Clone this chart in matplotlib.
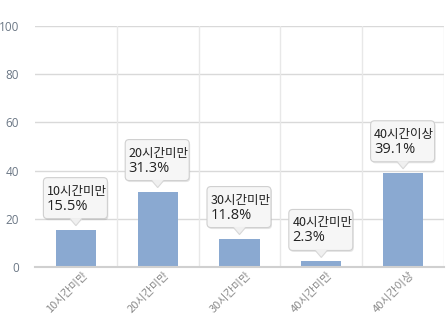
import matplotlib
matplotlib.use("Agg")
import matplotlib.pyplot as plt
from matplotlib.patches import FancyBboxPatch, Polygon
from matplotlib.transforms import Affine2D, ScaledTranslation

plt.rcParams['font.family'] = ['Noto Sans CJK KR', 'DejaVu Sans']

categories = ['10시간미만', '20시간미만', '30시간미만', '40시간미만', '40시간이상']
values = [15.5, 31.3, 11.8, 2.3, 39.1]
yticks = [0, 20, 40, 60, 80, 100]

fig = plt.figure(figsize=(4.48, 3.18), dpi=100)
W, H = 448, 318
left, right, top, bottom = 35, 444, 26, 267
ax = fig.add_axes([left / W, 1 - bottom / H, (right - left) / W, (bottom - top) / H])

x = list(range(len(categories)))
ax.bar(x, values, width=0.49, color='#8aa9d1', zorder=2)
ax.set_xlim(-0.5, len(categories) - 0.5)
ax.set_ylim(0, 100)

# grid
for y in yticks[1:]:
    ax.axhline(y, color='#d9d9d9', lw=1, zorder=0)
for b in [0.5, 1.5, 2.5, 3.5, 4.5]:
    ax.axvline(b, color='#e8e8e8', lw=1, zorder=0)

for s in ['left', 'top', 'right']:
    ax.spines[s].set_visible(False)
ax.spines['bottom'].set_color('#d0d0d0')
ax.spines['bottom'].set_linewidth(1.5)

ax.set_yticks(yticks)
ax.set_yticklabels([str(v) for v in yticks], color='#6b7785', fontsize=8.5,
                   family=['Open Sans', 'DejaVu Sans'])
ax.tick_params(axis='y', length=0, pad=11.5)
ax.set_xticks(x)
ax.set_xticklabels(categories, rotation=45, ha='right', rotation_mode='anchor',
                   color='#8a8a8a', fontsize=8)
ax.tick_params(axis='x', length=0, pad=2)
shift = ScaledTranslation(6 / 100, 0, fig.dpi_scale_trans)
for lab in ax.get_xticklabels():
    lab.set_transform(lab.get_transform() + shift)

fig.canvas.draw()

# callouts
for xi, v, cat in zip(x, values, categories):
    px, py = ax.transData.transform((xi, v))
    pt = Affine2D().translate(px, py)
    shadow = FancyBboxPatch((-31.5, 9.5), 64, 41, boxstyle='round,pad=0,rounding_size=4',
                            transform=pt, fc='#000000', ec='none', alpha=0.10,
                            zorder=3, clip_on=False)
    fig.add_artist(shadow)
    box = FancyBboxPatch((-32.5, 11), 64, 41, boxstyle='round,pad=0,rounding_size=4',
                         transform=pt, fc='#f6f6f6', ec='#d0d0d0', lw=0.8,
                         zorder=4, clip_on=False)
    fig.add_artist(box)
    tri = Polygon([(-6, 11.6), (6, 11.6), (0, 4)], closed=True, transform=pt,
                  fc='#f0f0f0', ec='none', zorder=5, clip_on=False)
    fig.add_artist(tri)
    tri_edge = Polygon([(-6, 11), (0, 4), (6, 11)], closed=False, transform=pt,
                       fill=False, ec='#d8d8d8', lw=0.8, zorder=5, clip_on=False)
    fig.add_artist(tri_edge)
    fig.text(0, 0, cat, transform=Affine2D().translate(px - 29, py + 38.5),
             fontsize=9, color='#222222', va='center', ha='left', zorder=6)
    fig.text(0, 0, f'{v}%', transform=Affine2D().translate(px - 29, py + 23.5),
             fontsize=10.5, color='#222222', va='center', ha='left', zorder=6,
             family=['Open Sans', 'DejaVu Sans'])

fig.savefig('out.png', dpi=100)
